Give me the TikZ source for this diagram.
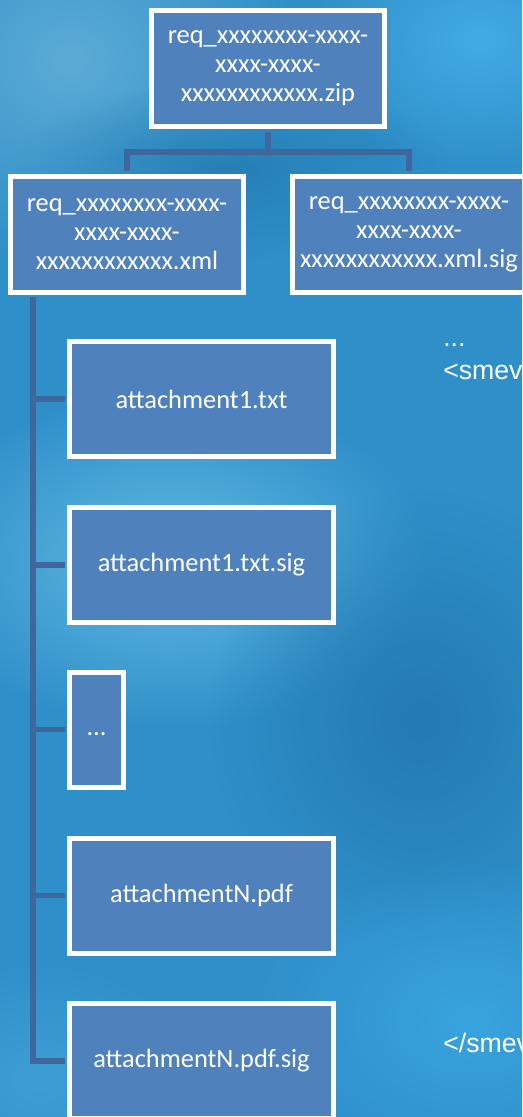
\documentclass[tikz,border=0pt]{standalone}
\usepackage{fontspec}
\setmainfont{Carlito}
\newfontfamily\arialfont{Liberation Sans}
\usepackage{tikz}
\usetikzlibrary{fadings}

\definecolor{boxblue}{RGB}{79,129,189}
\definecolor{linkblue}{RGB}{64,103,156}
\definecolor{bgblue}{RGB}{47,143,201}
\tikzfading[name=softglow, inner color=transparent!0, outer color=transparent!100]

\begin{document}
\begin{tikzpicture}[x=0.75pt,y=0.75pt,yscale=-1,xscale=1,
    filebox/.style={draw=white, line width=3.75pt, fill=boxblue, text=white, align=center, inner sep=0pt, font=\fontsize{19.8}{21.75}\selectfont},
    rootbox/.style={filebox, minimum width=174.75pt, minimum height=87pt},
    attbox/.style={filebox, minimum width=198pt, minimum height=86.25pt},
    link/.style={draw=linkblue, line width=4pt},
    xmltext/.style={text=white, font=\arialfont\fontsize{20}{25.5}\selectfont, anchor=base west, inner sep=0pt}]
    \clip (0,0) rectangle (522,1117);

    %Background
    \fill[bgblue] (0,0) rectangle (522,1117);
    \fill[color={rgb,255:red,92;green,172;blue,214}, path fading=softglow] (70,60) ellipse (230 and 200);
    \fill[color={rgb,255:red,66;green,172;blue,228}, path fading=softglow] (480,40) ellipse (170 and 130);
    \fill[color={rgb,255:red,38;green,128;blue,182}, path fading=softglow] (230,170) ellipse (220 and 90);
    \fill[color={rgb,255:red,98;green,186;blue,226}, path fading=softglow] (170,560) ellipse (260 and 170);
    \fill[color={rgb,255:red,36;green,122;blue,178}, path fading=softglow] (420,720) ellipse (210 and 230);
    \fill[color={rgb,255:red,56;green,164;blue,222}, path fading=softglow] (470,1020) ellipse (220 and 160);
    \fill[color={rgb,255:red,62;green,158;blue,212}, path fading=softglow] (40,1080) ellipse (160 and 120);

    %Boxes
    \node[rootbox] (root) at (268,68.5) {req\_xxxxxxxx-xxxx-\\xxxx-xxxx-\\xxxxxxxxxxxx.zip};
    \node[rootbox] (xml) at (127,234) {req\_xxxxxxxx-xxxx-\\xxxx-xxxx-\\xxxxxxxxxxxx.xml};
    \node[rootbox] (sig) at (409,234) {req\_xxxxxxxx-xxxx-\\xxxx-xxxx-\\xxxxxxxxxxxx.xml.sig};
    \node[attbox] (att1) at (201.5,399) {attachment1.txt};
    \node[attbox] (att1sig) at (201.5,565) {attachment1.txt.sig};
    \node[attbox, minimum width=40.5pt] (more) at (96.5,729.5) {\strut...};
    \node[attbox] (attN) at (201.5,895.5) {attachmentN.pdf};
    \node[attbox] (attNsig) at (201.5,1061) {attachmentN.pdf.sig};

    %Connectors
    \coordinate (bus) at (268,152);
    \coordinate (trunk) at (33,0);
    \draw[link, shorten <=1.875pt, shorten >=1.875pt] (root.south) -- (bus) -| (xml.north);
    \draw[link, shorten >=1.875pt] (bus) -| (sig.north);
    \draw[link, shorten <=1.875pt, shorten >=1.875pt] (xml.south -| trunk) |- (attNsig.west);
    \foreach \n in {att1,att1sig,more,attN}
        \draw[link, shorten >=1.875pt] (\n.west -| trunk) -- (\n.west);

    % Text Node
    \node[xmltext] (xmlellip) at (443,346) {...};
    \node[xmltext] (xmlopen) at (443,379) {<smev};
    \node[xmltext] (xmlclose) at (443,1052) {</smev};
\end{tikzpicture}
\end{document}
